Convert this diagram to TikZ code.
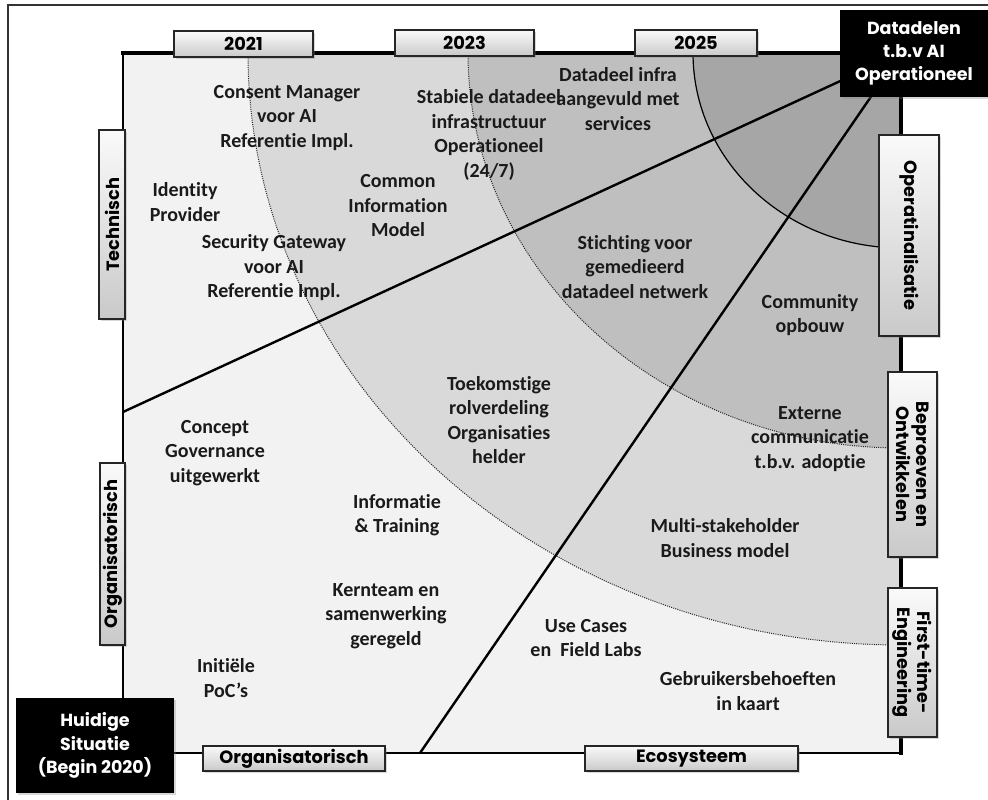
\documentclass[tikz,border=0pt]{standalone}
\usepackage{fontspec}
\setmainfont{Carlito}[Ligatures=NoCommon]
\newfontfamily\lblfont{Poppins}
\usetikzlibrary{shadows}
\definecolor{zoneA}{HTML}{F2F2F2}
\definecolor{zoneB}{HTML}{D9D9D9}
\definecolor{zoneC}{HTML}{BFBFBF}
\definecolor{zoneD}{HTML}{A6A6A6}
\definecolor{inkcol}{HTML}{1A1A1A}
\begin{document}
\begin{tikzpicture}[x=1pt,y=-1pt,
  txt/.style={align=center, inner sep=0pt, text=inkcol,
    font=\bfseries\fontsize{20}{24.5}\selectfont},
  lbl/.style={draw=black!85, line width=1.1pt, top color=gray!4, bottom color=gray!42,
    inner sep=0pt, align=center, text=black,
    font=\lblfont\bfseries\fontsize{17.8}{20}\selectfont,
    drop shadow={shadow xshift=2pt, shadow yshift=-2pt, opacity=0.3}},
  goalbox/.style={fill=black, inner sep=0pt, align=center, text=white,
    font=\lblfont\bfseries\fontsize{17.5}{23.3}\selectfont,
    drop shadow={shadow xshift=2pt, shadow yshift=-2pt, opacity=0.3}},
  arcdot/.style={line width=1pt, dash pattern=on 1pt off 1.2pt, black!85},
  diag/.style={line width=2.4pt, black}
]
\useasboundingbox (0,0) rectangle (988,800);
\fill[white] (0,0) rectangle (988,800);
% outer frame
\draw[line width=1.4pt, black!80] (8,5) rectangle (1000,812);

% named corners
\coordinate (C) at (901,53);
\coordinate (BL) at (123,753);
\coordinate (TL) at (123,53);
\coordinate (BR) at (901,753);
\coordinate (L1) at (123,412);
\coordinate (L2) at (420,753);

% zones
\begin{scope}
\clip (TL) rectangle (BR);
\fill[zoneA] (TL) rectangle (BR);
\fill[zoneB] (C) ellipse [x radius=653pt, y radius=592pt];
\fill[zoneC] (C) ellipse [x radius=433pt, y radius=395pt];
\fill[zoneD] (C) ellipse [x radius=208pt, y radius=195pt];
\draw[arcdot] (C) ellipse [x radius=653pt, y radius=592pt];
\draw[arcdot] (C) ellipse [x radius=433pt, y radius=395pt];
\draw[line width=1.2pt] (C) ellipse [x radius=208pt, y radius=195pt];
\end{scope}

% diagonals
\draw[diag] (L1) -- (C);
\draw[diag] (L2) -- (C);

% square edges
\draw[line width=1.5pt] (TL) -- (BL) -- (BR);
\draw[line width=4pt, line cap=rect] (TL) -- (C) -- (BR);

% texts
\node[txt] (t1) at (287,118) {Consent Manager\\voor AI\\Referentie Impl.};
\node[txt] (t2) at (185,202) {Identity\\Provider};
\node[txt] (t3) at (274,268) {Security Gateway\\voor AI\\Referentie Impl.};
\node[txt] (t4) at (398,206) {Common\\Information\\Model};
\node[txt] (t5) at (489,135) {Stabiele datadeel\\infrastructuur\\Operationeel\\(24/7)};
\node[txt] (t6) at (618,99) {Datadeel infra\\aangevuld met\\services};
\node[txt] (t7) at (635,267) {Stichting voor\\gemedieerd\\datadeel netwerk};
\node[txt] (t8) at (810,315) {Community\\opbouw};
\node[txt] (t9) at (499,420) {Toekomstige\\rolverdeling\\Organisaties\\helder};
\node[txt] (t10) at (810,439) {Externe\\communicatie\\t.b.v. adoptie};
\node[txt] (t11) at (725,538) {Multi-stakeholder\\Business model};
\node[txt] (t12) at (215,453) {Concept\\Governance\\uitgewerkt};
\node[txt] (t13) at (397,515) {Informatie\\\& Training};
\node[txt] (t14) at (386,616) {Kernteam en\\samenwerking\\geregeld};
\node[txt] (t15) at (226,678) {Initiële\\PoC’s};
\node[txt] (t16) at (586,638) {Use Cases\\en\ \ Field Labs};
\node[txt] (t17) at (748,691) {Gebruikersbehoeften\\in kaart};

% label boxes
\node[lbl, minimum width=139pt, minimum height=26pt] (y21) at (243.5,44) {2021};
\node[lbl, minimum width=139pt, minimum height=26pt] (y23) at (464.5,43) {2023};
\node[lbl, minimum width=122pt, minimum height=26pt] (y25) at (696,43) {2025};
\node[lbl, rotate=90, minimum width=189pt, minimum height=26pt] (tech) at (112,224.5) {Technisch};
\node[lbl, rotate=90, minimum width=182pt, minimum height=25pt] (orgl) at (112.5,554) {Organisatorisch};
\node[lbl, minimum width=182pt, minimum height=25pt] (orgb) at (294,758.5) {Organisatorisch};
\node[lbl, minimum width=213pt, minimum height=25pt] (eco) at (691.5,758.5) {Ecosysteem};
\node[lbl, rotate=-90, minimum width=201pt, minimum height=60pt] (oper) at (909,235.5) {Operatinalisatie};
\node[lbl, rotate=-90, minimum width=185pt, minimum height=49pt] (bepr) at (912.5,464.5) {Beproeven en\\Ontwikkelen};
\node[lbl, rotate=-90, minimum width=149pt, minimum height=49pt] (fte) at (912.5,662.5) {First-time-\\Engineering};

% black boxes
\node[goalbox, minimum width=148pt, minimum height=87pt] (goal) at (914,53.5) {Datadelen\\t.b.v AI\\Operationeel};
\node[goalbox, minimum width=158pt, minimum height=95pt] (start) at (95,745.5) {Huidige\\Situatie\\(Begin 2020)};
\end{tikzpicture}
\end{document}
